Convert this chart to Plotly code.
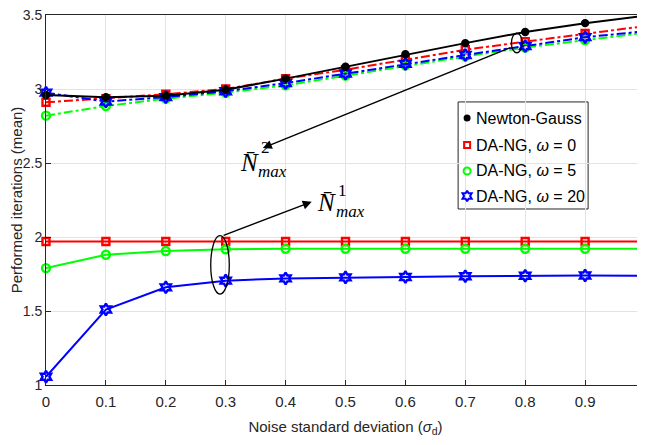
import plotly.graph_objects as go

sigma = [0, 0.1, 0.2, 0.3, 0.4, 0.5, 0.6, 0.7, 0.8, 0.9, 1.0]
x_ticks = [0, 0.1, 0.2, 0.3, 0.4, 0.5, 0.6, 0.7, 0.8, 0.9, 1.0]
x_tick_labels = ["0", "0.1", "0.2", "0.3", "0.4", "0.5", "0.6", "0.7", "0.8", "0.9", "1"]
y_ticks = [1, 1.5, 2, 2.5, 3, 3.5]
y_tick_labels = ["1", "1.5", "2", "2.5", "3", "3.5"]

# N_max^2 (upper group)
ng_upper = [2.96, 2.945, 2.955, 2.995, 3.07, 3.15, 3.235, 3.31, 3.385, 3.445, 3.495]
w0_upper = [2.91, 2.935, 2.965, 3.0, 3.07, 3.13, 3.2, 3.265, 3.32, 3.375, 3.425]
w5_upper = [2.82, 2.885, 2.935, 2.975, 3.025, 3.09, 3.16, 3.22, 3.28, 3.33, 3.38]
w20_upper = [2.975, 2.915, 2.945, 2.985, 3.04, 3.105, 3.17, 3.23, 3.29, 3.35, 3.39]

# N_max^1 (lower group)
w0_lower = [1.97, 1.97, 1.97, 1.97, 1.97, 1.97, 1.97, 1.97, 1.97, 1.97, 1.97]
w5_lower = [1.79, 1.88, 1.905, 1.917, 1.92, 1.92, 1.92, 1.92, 1.92, 1.92, 1.92]
w20_lower = [1.056, 1.51, 1.66, 1.705, 1.72, 1.727, 1.73, 1.735, 1.738, 1.74, 1.738]

legend_names = ["Newton-Gauss", "DA-NG, <i>ω</i> = 0", "DA-NG, <i>ω</i> = 5", "DA-NG, <i>ω</i> = 20"]

BLACK, RED, GREEN, BLUE = "#000000", "#ff0000", "#00ff00", "#0000ff"
STYLES = {
    "ng": (BLACK, "circle", 6),
    "w0": (RED, "square-open", 7),
    "w5": (GREEN, "circle-open", 8),
    "w20": (BLUE, "hexagram-open", 9),
}

fig = go.Figure()

def add(y, key, dash):
    color, symbol, size = STYLES[key]
    fig.add_trace(go.Scatter(
        x=sigma, y=y, mode="lines+markers", showlegend=False,
        line=dict(color=color, width=2, dash=dash),
        marker=dict(symbol=symbol, size=size, color=color, line=dict(color=color, width=2.4)),
        cliponaxis=False,
    ))

add(w0_lower, "w0", "solid")
add(w5_lower, "w5", "solid")
add(w20_lower, "w20", "solid")
add(w0_upper, "w0", "dashdot")
add(w5_upper, "w5", "dashdot")
add(w20_upper, "w20", "dashdot")
add(ng_upper, "ng", "solid")

# ---- custom legend box (MATLAB-style compact legend) ----
leg_x0, leg_x1, leg_y0, leg_y1 = 0.688, 0.905, 0.4757, 0.765
leg_sym_x, leg_txt_x = 0.703, 0.715
leg_rows = [0.7216, 0.6486, 0.5784, 0.5108]
fig.add_shape(type="rect", xref="paper", yref="paper", x0=leg_x0, x1=leg_x1, y0=leg_y0, y1=leg_y1,
              line=dict(color="#262626", width=1), fillcolor="white", layer="between")
for key, name, ry in zip(["ng", "w0", "w5", "w20"], legend_names, leg_rows):
    color, symbol, size = STYLES[key]
    fig.add_trace(go.Scatter(
        x=[leg_sym_x], y=[ry], xaxis="x2", yaxis="y2", mode="markers", showlegend=False,
        marker=dict(symbol=symbol, size=size - 1, color=color, line=dict(color=color, width=2)),
        hoverinfo="skip", cliponaxis=False,
    ))
    fig.add_annotation(x=leg_txt_x, y=ry, xref="paper", yref="paper", text=name, showarrow=False,
                       xanchor="left", yanchor="middle",
                       font=dict(family="Liberation Sans, Arial, sans-serif", size=16, color="black"))

# ellipses
fig.add_shape(type="circle", xref="x", yref="y", x0=0.777, x1=0.795, y0=3.245, y1=3.378,
              line=dict(color="black", width=1.3))
fig.add_shape(type="circle", xref="x", yref="y", x0=0.275, x1=0.306, y0=1.614, y1=2.009,
              line=dict(color="black", width=1.3))

# arrows
fig.add_annotation(x=0.362, y=2.601, ax=0.778, ay=3.284, xref="x", yref="y", axref="x", ayref="y",
                   text="", showarrow=True, arrowhead=2, arrowsize=1.2, arrowwidth=1.5, arrowcolor="black")
fig.add_annotation(x=0.4436, y=2.238, ax=0.294, ay=2.007, xref="x", yref="y", axref="x", ayref="y",
                   text="", showarrow=True, arrowhead=2, arrowsize=1.2, arrowwidth=1.5, arrowcolor="black")

SERIF = "Liberation Serif, DejaVu Serif, serif"
mathfont = dict(family=SERIF, size=25, color="black")
supfont = dict(family=SERIF, size=17, color="black")
# N^2_max label
fig.add_annotation(x=0.339, y=2.505, xref="x", yref="y", text="<i>N̄</i>", showarrow=False,
                   font=mathfont, xanchor="center", yanchor="middle")
fig.add_annotation(x=0.366, y=2.605, xref="x", yref="y", text="2", showarrow=False,
                   font=supfont, xanchor="center", yanchor="middle")
fig.add_annotation(x=0.350, y=2.44, xref="x", yref="y", text="<i>max</i>", showarrow=False,
                   font=supfont, xanchor="left", yanchor="middle")
# N^1_max label
fig.add_annotation(x=0.469, y=2.235, xref="x", yref="y", text="<i>N̄</i>", showarrow=False,
                   font=mathfont, xanchor="center", yanchor="middle")
fig.add_annotation(x=0.495, y=2.315, xref="x", yref="y", text="1", showarrow=False,
                   font=supfont, xanchor="center", yanchor="middle")
fig.add_annotation(x=0.480, y=2.172, xref="x", yref="y", text="<i>max</i>", showarrow=False,
                   font=supfont, xanchor="left", yanchor="middle")

axis_common = dict(
    showgrid=True, gridcolor="#e3e3e3", gridwidth=1,
    showline=True, linecolor="#262626", linewidth=1, mirror=True,
    ticks="inside", ticklen=5, tickcolor="#262626",
    zeroline=False, automargin=False, ticklabeloverflow="allow",
)

fig.update_xaxes(range=[0, 1], tickvals=x_ticks, ticktext=x_tick_labels, ticklabelstandoff=3,
                 tickfont=dict(family="Liberation Sans, Arial, sans-serif", size=15, color="#262626"),
                 title=dict(text="Noise standard deviation (<i>σ</i><sub>d</sub>)", standoff=12,
                            font=dict(family="Liberation Sans, Arial, sans-serif", size=15, color="#262626")),
                 **axis_common)
fig.update_yaxes(range=[1, 3.5], tickvals=y_ticks, ticktext=y_tick_labels,
                 tickfont=dict(family="Liberation Sans, Arial, sans-serif", size=14, color="#262626"),
                 title=dict(text="Performed iterations (mean)", standoff=6,
                            font=dict(family="Liberation Sans, Arial, sans-serif", size=15, color="#262626")),
                 **axis_common)

# the page body adds an 8px margin, so the figure is sized to fit the 645x445 window without scrollbars
fig.update_layout(
    width=637, height=429,
    margin=dict(l=38, r=0, t=7, b=52),
    plot_bgcolor="white", paper_bgcolor="white",
    showlegend=False,
    xaxis2=dict(overlaying="x", range=[0, 1], visible=False, fixedrange=True),
    yaxis2=dict(overlaying="y", range=[0, 1], visible=False, fixedrange=True),
)

fig.write_html("out.html")
